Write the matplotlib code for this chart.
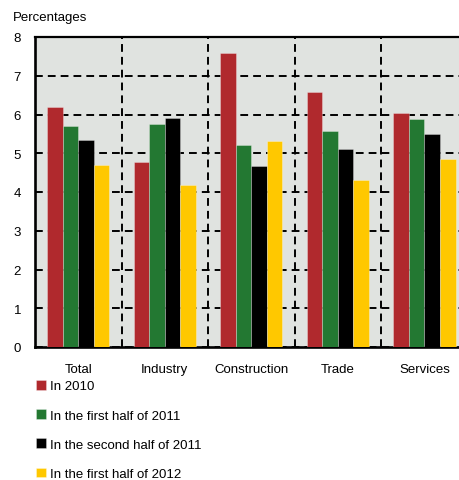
import numpy as np
import matplotlib
matplotlib.use('Agg')
import matplotlib.pyplot as plt

plt.rcParams['font.family'] = ['Liberation Sans', 'DejaVu Sans']

sectors = ['Total', 'Industry', 'Construction', 'Trade', 'Services']
periods = ['In 2010', 'In the first half of 2011',
           'In the second half of 2011', 'In the first half of 2012']
in_2010 = [6.20, 4.78, 7.58, 6.57, 6.05]
h1_2011 = [5.70, 5.75, 5.22, 5.57, 5.88]
h2_2011 = [5.34, 5.91, 4.67, 5.12, 5.50]
h1_2012 = [4.70, 4.18, 5.32, 4.32, 4.86]
colors = ['#B0292D', '#237832', '#000000', '#FFC800']

series = [in_2010, h1_2011, h2_2011, h1_2012]

fig = plt.figure(figsize=(4.59, 4.81), dpi=100)
ax = fig.add_axes([35/459, 133/481, 424/459, 310/481])
ax.set_facecolor('#E0E3E0')

x = np.arange(len(sectors))
w = 0.18
for i, (vals, col) in enumerate(zip(series, colors)):
    ax.bar(x + (i - 1.5) * w, vals, w, color=col, label=periods[i],
           edgecolor=(1, 1, 1, 0.35), linewidth=0.6, zorder=3)

ax.set_ylim(0, 8)
ax.set_xlim(-0.5, 4.40)
ax.set_yticks(range(0, 9))
ax.set_xticks(x)
ax.set_xticklabels(sectors)
ax.set_xticks(x[:-1] + 0.5, minor=True)
ax.tick_params(axis='both', which='both', length=0, labelsize=9.5)
ax.tick_params(axis='y', pad=10)
ax.tick_params(axis='x', pad=11.5)

# dashed grid: horizontal at each unit, vertical between sectors
dash = (0, (4, 2.6))
ax.grid(axis='y', which='major', color='black', linestyle=dash, linewidth=1.4, zorder=1)
ax.grid(axis='x', which='minor', color='black', linestyle=dash, linewidth=1.4, zorder=1)
ax.set_axisbelow(True)

ax.spines['right'].set_visible(False)
ax.spines['left'].set_linewidth(1.9)
ax.spines['bottom'].set_linewidth(1.9)
ax.spines['top'].set_linewidth(1.6)

fig.text(13/459, 1 - 18/481, 'Percentages', fontsize=9.5, va='center', ha='left')

ax.legend(loc='upper left', bbox_to_anchor=(36/459, 1 - 381/481),
          bbox_transform=fig.transFigure, frameon=False, fontsize=9.5,
          handlelength=0.75, handleheight=0.75, handletextpad=0.3,
          labelspacing=1.27, borderpad=0, borderaxespad=0)

fig.savefig('out.png', dpi=100)
